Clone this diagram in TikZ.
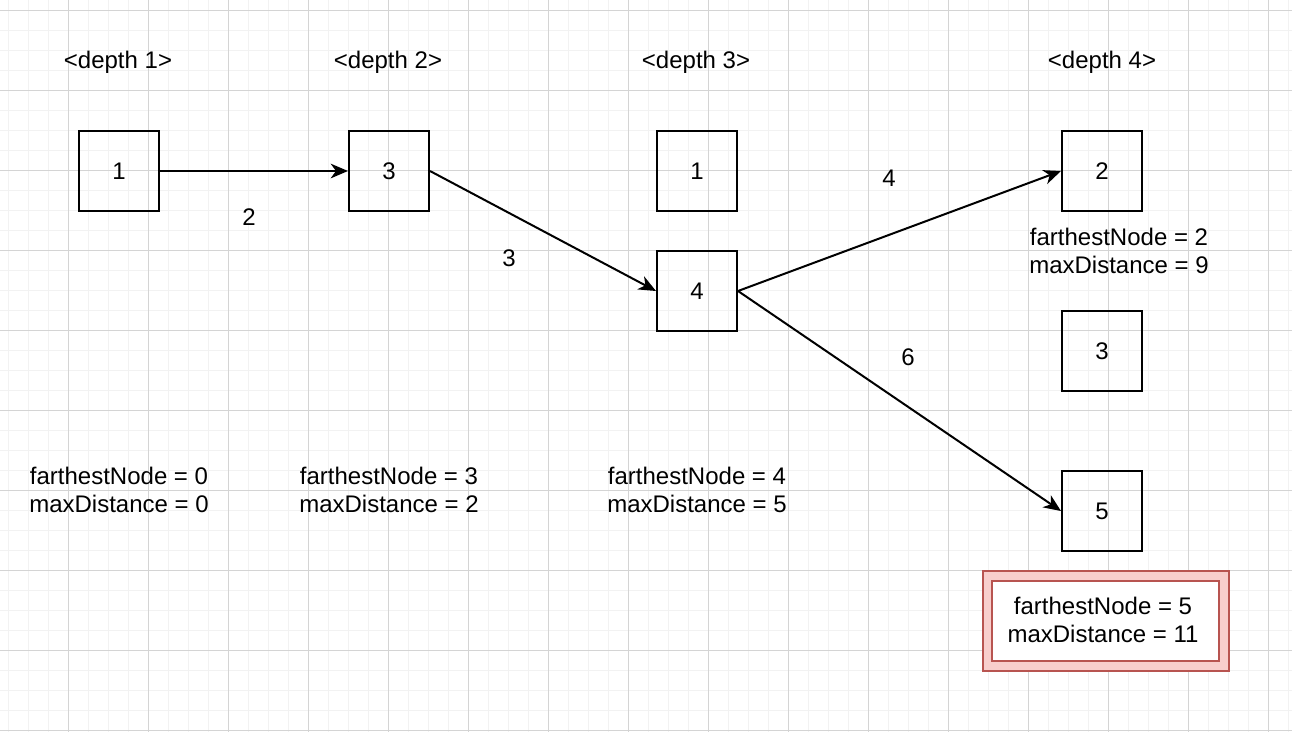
\documentclass[tikz,border=0pt]{standalone}
\usepackage{fontspec}
\setmainfont{Liberation Sans}
\usetikzlibrary{arrows.meta}
\definecolor{gridmajor}{HTML}{D4D4D4}
\definecolor{gridminor}{HTML}{F2F2F2}
\definecolor{redfill}{HTML}{F8CECC}
\definecolor{redline}{HTML}{B85450}

\begin{document}
\begin{tikzpicture}[x=0.75pt, y=-0.75pt,
		font=\fontsize{18}{21.5}\selectfont,
		vbox/.style={draw, line width=1.5pt, minimum size=60pt, inner sep=0pt},
		info/.style={align=center, inner sep=0pt},
		edge/.style={line width=1.5pt, -{Stealth[length=13pt, width=11pt, inset=4pt]}}]
		\useasboundingbox (0,0) rectangle (1292,732);
		% grid
		\foreach \x in {8,28,...,1292} \draw[gridminor, line width=0.75pt] (\x,0) -- (\x,732);
		\foreach \y in {10,30,...,732} \draw[gridminor, line width=0.75pt] (0,\y) -- (1292,\y);
		\foreach \x in {68,148,...,1292} \draw[gridmajor, line width=0.75pt] (\x,0) -- (\x,732);
		\foreach \y in {10,90,...,732} \draw[gridmajor, line width=0.75pt] (0,\y) -- (1292,\y);
		% headers
		\node (hdA) at (118,62) {<depth 1>};
		\node (hdB) at (388,62) {<depth 2>};
		\node (hdC) at (696,62) {<depth 3>};
		\node (hdD) at (1102,62) {<depth 4>};
		% boxes
		\node[vbox] (aOne) at (119,171) {1};
		\node[vbox] (bThree) at (389,171) {3};
		\node[vbox] (cOne) at (697,171) {1};
		\node[vbox] (cFour) at (697,291) {4};
		\node[vbox] (dTwo) at (1102,171) {2};
		\node[vbox] (dThree) at (1102,351) {3};
		\node[vbox] (dFive) at (1102,511) {5};
		% edges
		\draw[edge] (aOne.east) -- (bThree.west);
		\draw[edge] (bThree.east) -- (cFour.west);
		\draw[edge] (cFour.east) -- (dTwo.west);
		\draw[edge] (cFour.east) -- (dFive.west);
		\node (wA) at (249,217) {2};
		\node (wB) at (509,258) {3};
		\node (wC) at (889,178) {4};
		\node (wD) at (908,357) {6};
		% state
		\node[info] (stA) at (119,490) {farthestNode = 0\\maxDistance = 0};
		\node[info] (stB) at (389,490) {farthestNode = 3\\maxDistance = 2};
		\node[info] (stC) at (697,490) {farthestNode = 4\\maxDistance = 5};
		\node[info] (stD) at (1119,251) {farthestNode = 2\\maxDistance = 9};
		\draw[redline, fill=redfill, line width=1.5pt] (983,571) rectangle (1229,671);
		\draw[redline, fill=white, line width=1.5pt] (992,581) rectangle (1219,661);
		\node[info] (stE) at (1103,620) {farthestNode = 5\\maxDistance = 11};
	\end{tikzpicture}
\end{document}
